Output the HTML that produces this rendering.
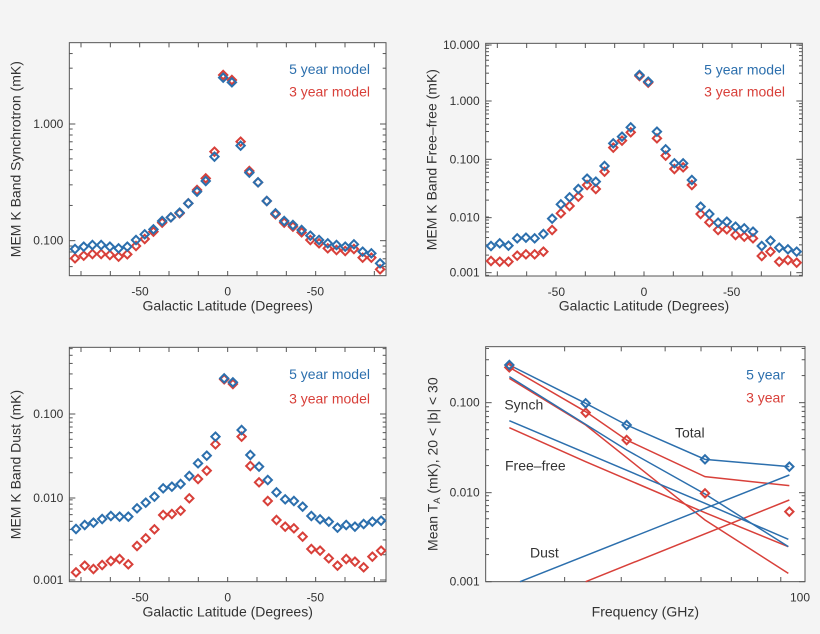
<!DOCTYPE html>
<html><head><meta charset="utf-8"><style>
html,body{margin:0;padding:0;background:#f4f4f4;}
#c{position:relative;width:820px;height:634px;overflow:hidden;background:#f4f4f4;}
svg{position:absolute;}
text{font-family:"Liberation Sans",sans-serif;fill:#333;}
</style></head><body><div id="c"></div>
<script>
const B='#2c6fad',R='#d8403a';
const C=document.getElementById('c');
function panel(ox,oy,fr,opts){
  let s=`<svg style="left:${ox}px;top:${oy}px" width="400" height="${opts.h}" viewBox="0 0 1200 ${opts.h*3}">`;
  const [x0,y0,x1,y1]=fr;
  s+=`<rect x="${x0}" y="${y0}" width="${x1-x0}" height="${y1-y0}" fill="#fff" stroke="#555" stroke-width="3"/>`;
  opts.dec.forEach((d,i)=>{
    const [py,lab]=d;
    s+=`<line x1="${x0}" x2="${x0+18}" y1="${py}" y2="${py}" stroke="#555" stroke-width="3"/><line x1="${x1}" x2="${x1-18}" y1="${py}" y2="${py}" stroke="#555" stroke-width="3"/>`;
    if(lab) s+=`<text x="${x0-18}" y="${py+12}" font-size="36" text-anchor="end">${lab}</text>`;
    for(let k=2;k<=9;k++){const yy=py-Math.log10(k)*opts.dpx; if(yy>y0&&yy<y1) s+=`<line x1="${x0}" x2="${x0+10}" y1="${yy}" y2="${yy}" stroke="#555" stroke-width="3"/><line x1="${x1}" x2="${x1-10}" y1="${yy}" y2="${yy}" stroke="#555" stroke-width="3"/>`;}
    if(i==opts.dec.length-1){for(let k=2;k<=9;k++){const yy=py+opts.dpx-Math.log10(k)*opts.dpx; if(yy>y0&&yy<y1) s+=`<line x1="${x0}" x2="${x0+10}" y1="${yy}" y2="${yy}" stroke="#555" stroke-width="3"/><line x1="${x1}" x2="${x1-10}" y1="${yy}" y2="${yy}" stroke="#555" stroke-width="3"/>`;}}
  });
  opts.xt.forEach(t=>{const [px,len,lab]=t;
    s+=`<line x1="${px}" x2="${px}" y1="${y1}" y2="${y1-len}" stroke="#555" stroke-width="3"/><line x1="${px}" x2="${px}" y1="${y0}" y2="${y0+len}" stroke="#555" stroke-width="3"/>`;
    if(lab) s+=`<text x="${px}" y="${y1+60}" font-size="36" text-anchor="middle">${lab}</text>`;});
  s+=opts.body||'';
  s+=`<text x="${(x0+x1)/2}" y="${y1+104}" font-size="42" text-anchor="middle">${opts.xl}</text>`;
  s+=`<text transform="translate(${opts.ylx},${(y0+y1)/2}) rotate(-90)" font-size="42" text-anchor="middle">${opts.yl}</text>`;
  s+='</svg>';C.insertAdjacentHTML('beforeend',s);
}
function dia(x,y,c){return `<path d="M${x} ${y-12.5}L${x+12.5} ${y}L${x} ${y+12.5}L${x-12.5} ${y}Z" fill="none" stroke="${c}" stroke-width="6"/>`;}
function pts(xs,dx,ys,c){return ys.map((y,i)=>dia(xs+i*dx,y,c)).join('');}
function lat(c,x0,x1){const t=[];for(let k=-5;k<=5;k++){const px=c+k*88; if(px>x0+5&&px<x1-5)t.push([px,14,'']);} t.push([c-263,0,'-50'],[c,0,'0'],[c+263,0,'-50']);return t;}
function leg(x,y1,y2){return `<text x="${x}" y="${y1}" font-size="42" text-anchor="end" style="fill:${B}">5 year model</text><text x="${x}" y="${y2}" font-size="42" text-anchor="end" style="fill:${R}">3 year model</text>`;}
let b1=[657,650,645,645,650,655,650,630,613,598,573,562,548,520,485,453,380,143,157,347,428,457,513,550,573,585,600,617,630,640,645,650,643,665,670,700];
let r1=[685,677,672,672,675,680,673,648,627,605,578,562,550,520,480,445,365,135,150,335,423,457,513,553,578,590,607,630,640,655,660,663,657,683,683,718];
panel(0,30,[208,38,1158,737],{h:300,dpx:351,dec:[[282,'1.000'],[632,'0.100']],xt:lat(683,208,1158),
 body:pts(225,26.15,r1,R)+pts(225,26.15,b1,B)+leg(1110,132,200),xl:'Galactic Latitude (Degrees)',yl:'MEM K Band Synchrotron (mK)',ylx:62});
let b2=[648,640,647,625,623,625,612,566,523,502,477,446,455,408,340,320,292,135,155,305,358,400,400,450,530,552,578,575,590,595,605,648,632,653,658,665];
let r2=[693,695,695,677,673,673,665,600,550,528,500,465,477,425,353,332,307,138,158,325,377,417,412,465,552,577,600,598,615,620,625,678,665,695,690,698];
panel(420,30,[197,40,1147,738],{h:300,dpx:175,dec:[[45,'10.000'],[213,'1.000'],[388,'0.100'],[563,'0.010'],[728,'0.001']],xt:lat(672,197,1147),
 body:pts(213,26.2,r2,R)+pts(213,26.2,b2,B)+leg(1095,133,200),xl:'Galactic Latitude (Degrees)',yl:'MEM K Band Free–free (mK)',ylx:50});
let b3=[567,555,548,537,528,530,530,505,488,470,445,440,432,408,370,347,290,115,127,270,345,380,420,457,478,483,500,528,538,545,563,555,560,552,545,542];
let r3=[697,677,687,675,663,657,673,618,595,568,525,522,512,475,417,392,313,118,132,290,378,427,483,540,560,565,590,627,632,655,677,657,665,682,650,632];
panel(0,340,[208,22,1158,725],{h:294,dpx:252,dec:[[222,'0.100'],[474,'0.010'],[720,'0.001']],xt:lat(683,208,1158),
 body:pts(228,26.15,r3,R)+pts(228,26.15,b3,B)+leg(1110,117,190),xl:'Galactic Latitude (Degrees)',yl:'MEM K Band Dust (mK)',ylx:62});
function fx(f){return 1108+(Math.log10(f)-Math.log10(94))*1359;}
let xt4=[];[30,40,50,60,70,80,90].forEach(f=>xt4.push([fx(f),14,'']));xt4.push([1140,0,'100']);
function pl(p,c){return `<polyline points="${p}" fill="none" stroke="${c}" stroke-width="4.5"/>`;}
let body4=
 pl('268,82 497,215 620,300 855,410 1108,437',R)+
 pl('268,115 497,255 855,540 1105,700',R)+
 pl('268,263 497,365 855,518 1105,620',R)+
 pl('497,725 1108,480',R)+
 pl('268,75 497,190 620,255 855,358 1108,380',B)+
 pl('268,110 620,330 855,462 1105,620',B)+
 pl('268,242 855,490 1105,598',B)+
 pl('300,725 1108,405',B)+
 [[268,82],[497,218],[620,300],[855,460],[1108,515]].map(p=>dia(p[0],p[1],R)).join('')+
 [[268,75],[497,190],[620,255],[855,358],[1108,380]].map(p=>dia(p[0],p[1],B)).join('')+
 `<text x="253" y="208" font-size="42">Synch</text><text x="255" y="392" font-size="42">Free–free</text><text x="330" y="653" font-size="42">Dust</text><text x="765" y="292" font-size="42">Total</text>`+
 `<text x="1095" y="118" font-size="42" text-anchor="end" style="fill:${B}">5 year</text><text x="1095" y="188" font-size="42" text-anchor="end" style="fill:${R}">3 year</text>`;
panel(420,340,[197,20,1155,725],{h:294,dpx:270,dec:[[188,'0.100'],[458,'0.010'],[725,'0.001']],xt:xt4,body:body4,
 xl:'Frequency (GHz)',yl:'Mean T<tspan font-size="28" dy="8">A</tspan><tspan dy="-8"> (mK), 20 &lt; |b| &lt; 30</tspan>',ylx:52});
</script></body></html>
